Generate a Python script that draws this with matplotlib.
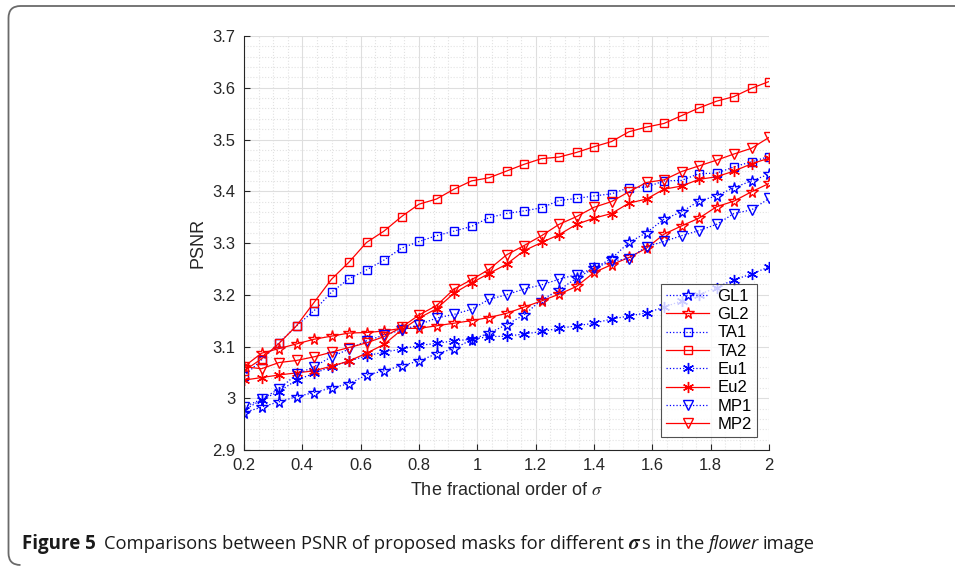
import numpy as np
import matplotlib
matplotlib.use('Agg')
import matplotlib.pyplot as plt
from matplotlib.path import Path
from matplotlib.patches import PathPatch
from matplotlib.transforms import IdentityTransform
from matplotlib.ticker import MultipleLocator

plt.rcParams['font.family'] = ['Liberation Sans', 'DejaVu Sans']
plt.rcParams['mathtext.fontset'] = 'stix'

# fractional order sigma, 0.2 .. 2 step 0.06
sigma = np.round(np.arange(31) * 0.06 + 0.2, 2)

gl1 = [2.972, 2.983, 2.993, 3.003, 3.011, 3.020, 3.028, 3.045, 3.053, 3.063,
       3.072, 3.086, 3.096, 3.113, 3.126, 3.142, 3.161, 3.190, 3.209, 3.232,
       3.251, 3.270, 3.301, 3.320, 3.346, 3.360, 3.381, 3.391, 3.407, 3.420, 3.433]
gl2 = [3.061, 3.087, 3.096, 3.105, 3.114, 3.120, 3.126, 3.127, 3.130, 3.135,
       3.135, 3.140, 3.145, 3.150, 3.156, 3.164, 3.176, 3.188, 3.201, 3.216,
       3.243, 3.258, 3.272, 3.290, 3.317, 3.333, 3.348, 3.370, 3.381, 3.399, 3.415]
ta1 = [3.043, 3.074, 3.107, 3.140, 3.169, 3.205, 3.231, 3.248, 3.267, 3.290,
       3.303, 3.314, 3.323, 3.332, 3.349, 3.357, 3.362, 3.368, 3.382, 3.386,
       3.391, 3.395, 3.407, 3.408, 3.420, 3.421, 3.434, 3.435, 3.447, 3.457, 3.467]
ta2 = [3.053, 3.076, 3.106, 3.140, 3.185, 3.230, 3.263, 3.301, 3.323, 3.351,
       3.375, 3.385, 3.404, 3.420, 3.426, 3.439, 3.452, 3.463, 3.466, 3.475,
       3.486, 3.496, 3.515, 3.524, 3.531, 3.546, 3.561, 3.574, 3.583, 3.599, 3.612]
eu1 = [2.977, 2.997, 3.013, 3.035, 3.048, 3.061, 3.072, 3.082, 3.089, 3.095,
       3.102, 3.106, 3.111, 3.114, 3.119, 3.120, 3.124, 3.129, 3.135, 3.140,
       3.145, 3.153, 3.159, 3.165, 3.176, 3.188, 3.200, 3.214, 3.229, 3.240, 3.254]
eu2 = [3.035, 3.040, 3.045, 3.049, 3.053, 3.062, 3.072, 3.087, 3.104, 3.132,
       3.155, 3.173, 3.203, 3.223, 3.241, 3.259, 3.285, 3.301, 3.316, 3.336,
       3.348, 3.357, 3.377, 3.385, 3.404, 3.410, 3.423, 3.428, 3.439, 3.453, 3.464]
mp1 = [2.983, 2.998, 3.018, 3.046, 3.061, 3.080, 3.095, 3.111, 3.122, 3.132,
       3.142, 3.155, 3.162, 3.172, 3.191, 3.200, 3.211, 3.219, 3.230, 3.239,
       3.251, 3.265, 3.270, 3.293, 3.303, 3.314, 3.324, 3.336, 3.357, 3.364, 3.386]
mp2 = [3.061, 3.057, 3.069, 3.073, 3.080, 3.089, 3.098, 3.107, 3.119, 3.137,
       3.161, 3.179, 3.211, 3.229, 3.249, 3.277, 3.295, 3.314, 3.336, 3.351,
       3.369, 3.380, 3.399, 3.417, 3.422, 3.438, 3.449, 3.460, 3.472, 3.483, 3.504]

series = [('GL1', gl1), ('GL2', gl2), ('TA1', ta1), ('TA2', ta2),
          ('Eu1', eu1), ('Eu2', eu2), ('MP1', mp1), ('MP2', mp2)]
markers = {'GL': ('*', 8.5), 'TA': ('s', 6), 'Eu': ((6, 2, 0), 8), 'MP': ('v', 7.5)}

fig = plt.figure(figsize=(9.55, 5.66), dpi=100)
ax = fig.add_axes([244 / 955, 1 - 450 / 566, 525 / 955, 414 / 566])

for name, vals in series:
    m, ms = markers[name[:2]]
    if name.endswith('1'):
        ax.plot(sigma, vals, color='blue', linestyle=':', linewidth=0.9,
                marker=m, markersize=ms, markerfacecolor='none',
                markeredgewidth=1.0, label=name)
    else:
        ax.plot(sigma, vals, color='red', linestyle='-', linewidth=0.9,
                marker=m, markersize=ms, markerfacecolor='none',
                markeredgewidth=1.0, label=name)

ax.set_xlim(0.2, 2)
ax.set_ylim(2.9, 3.7)
ax.xaxis.set_minor_locator(MultipleLocator(0.05))
ax.yaxis.set_minor_locator(MultipleLocator(0.02))
ax.set_xticks(np.round(np.arange(0.2, 2.01, 0.2), 1))
ax.set_xticklabels(['0.2', '0.4', '0.6', '0.8', '1', '1.2', '1.4', '1.6', '1.8', '2'])
ax.set_yticks(np.round(np.arange(2.9, 3.71, 0.1), 1))
ax.set_yticklabels(['2.9', '3', '3.1', '3.2', '3.3', '3.4', '3.5', '3.6', '3.7'])

ax.grid(True, which='major', color='#dedede', linewidth=0.8)
ax.grid(True, which='minor', color='#e2e2e2', linestyle=':', linewidth=0.8)
ax.set_axisbelow(True)
ax.spines['top'].set_visible(False)
ax.spines['right'].set_visible(False)
for s in ('left', 'bottom'):
    ax.spines[s].set_color('#262626')
    ax.spines[s].set_linewidth(0.8)
ax.tick_params(which='major', direction='in', length=4, width=0.8,
               color='#262626', labelsize=12, labelcolor='#262626', pad=6)
ax.tick_params(which='minor', length=0)

ax.set_xlabel(r'The fractional order of $\sigma$', fontsize=13, color='#262626', labelpad=6)
ax.set_ylabel('PSNR', fontsize=13, color='#262626', labelpad=4)

leg = ax.legend(loc='lower right', bbox_to_anchor=(0.977, 0.031), fontsize=12,
                frameon=True, fancybox=False, handlelength=2.6, handletextpad=0.5,
                labelspacing=0.2, borderpad=0.3, borderaxespad=0)
leg.get_frame().set_edgecolor('#262626')
leg.get_frame().set_linewidth(0.8)

# rounded frame: top and left edges only, the rest runs off the page
rad = 12
L, T, B, R = 8.5, 560, 1, 1200
verts = [(R, T), (L + rad, T), (L, T), (L, T - rad), (L, B + rad), (L, B), (L + rad, B)]
codes = [Path.MOVETO, Path.LINETO, Path.CURVE3, Path.CURVE3, Path.LINETO, Path.CURVE3, Path.CURVE3]
frame = PathPatch(Path(verts, codes), transform=IdentityTransform(), facecolor='none',
                  edgecolor='#6a6a6a', linewidth=1.3, clip_on=False)
fig.add_artist(frame)

# caption
fig.canvas.draw()
r = fig.canvas.get_renderer()
x0, ybase = 22 / 955, 1 - 549 / 566
cap_font = ['Open Sans', 'DejaVu Sans']
pieces = [
    ('Figure 5', dict(fontweight='bold', fontsize=13.5, family=cap_font), 8),
    ('Comparisons between PSNR of proposed masks for different', dict(fontsize=13.2, family=cap_font), 4),
    (r'$\boldsymbol{\sigma}$', dict(fontsize=15), 1),
    ('s in the', dict(fontsize=13.2, family=cap_font), 4),
    ('flower', dict(fontsize=13.2, style='italic', family=cap_font), 4),
    ('image', dict(fontsize=13.2, family=cap_font), 0),
]
x = x0
for txt, kw, gap in pieces:
    t = fig.text(x, ybase, txt, ha='left', va='baseline', color='#1a1a1a', **kw)
    bb = t.get_window_extent(renderer=r)
    x += (bb.width + gap) / 955

fig.savefig('out.png', dpi=100)
